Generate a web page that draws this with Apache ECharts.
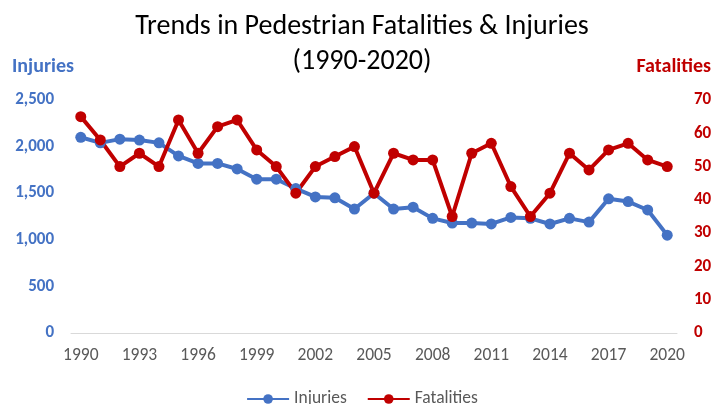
<!DOCTYPE html>
<html>
<head>
<meta charset="utf-8">
<script src="https://cdn.jsdelivr.net/npm/echarts@6/dist/echarts.min.js"></script>
<style>
  html, body { margin: 0; padding: 0; background: #fff; }
  #chart { width: 724px; height: 404px; }
</style>
</head>
<body>
<div id="chart"></div>
<script>
// years on the x axis
var years = [];
for (var y = 1990; y <= 2020; y++) years.push(String(y));

// pedestrian injuries (left axis)
var injuries = [2100, 2040, 2080, 2070, 2040, 1900, 1820, 1820, 1760, 1650,
                1650, 1550, 1460, 1450, 1330, 1500, 1330, 1350, 1230, 1180,
                1180, 1170, 1240, 1230, 1170, 1230, 1190, 1440, 1410, 1320, 1050];

// pedestrian fatalities (right axis)
var fatalities = [65, 58, 50, 54, 50, 64, 54, 62, 64, 55,
                  50, 42, 50, 53, 56, 42, 54, 52, 52, 35,
                  54, 57, 44, 35, 42, 54, 49, 55, 57, 52, 50];

var blue = '#4472C4';
var red = '#C00000';
var grey = '#595959';
var font = 'Carlito, Lato, sans-serif';

var chart = echarts.init(document.getElementById('chart'));
chart.setOption({
  animation: false,
  textStyle: { fontFamily: font },
  title: {
    text: 'Trends in Pedestrian Fatalities & Injuries\n(1990-2020)',
    left: 'center',
    top: 4,
    textStyle: { fontFamily: font, fontSize: 28, fontWeight: 'normal', color: '#000', lineHeight: 35 }
  },
  graphic: [
    { type: 'text', left: 12, top: 57,
      style: { text: 'Injuries', fill: blue, font: 'bold 20px ' + font } },
    { type: 'text', right: 13, top: 57,
      style: { text: 'Fatalities', fill: red, font: 'bold 20px ' + font } }
  ],
  legend: {
    top: 385,
    left: 'center',
    itemWidth: 42,
    itemHeight: 12,
    itemGap: 20,
    textStyle: { color: grey, fontSize: 17.5, fontFamily: font },
    data: ['Injuries', 'Fatalities']
  },
  grid: { left: 71, right: 47, top: 100, bottom: 71 },
  xAxis: {
    type: 'category',
    data: years,
    boundaryGap: true,
    axisTick: { show: false },
    axisLine: { lineStyle: { color: '#D9D9D9', width: 1 } },
    axisLabel: { interval: 2, color: grey, fontSize: 17.5, margin: 14 }
  },
  yAxis: [
    {
      type: 'value', min: 0, max: 2500, interval: 500,
      splitLine: { show: false },
      axisLine: { show: false },
      axisLabel: {
        color: blue, fontWeight: 'bold', fontSize: 17, margin: 17,
        formatter: function (v) { return v.toLocaleString('en-US'); }
      }
    },
    {
      type: 'value', min: 0, max: 70, interval: 10,
      splitLine: { show: false },
      axisLine: { show: false },
      axisLabel: { color: red, fontWeight: 'bold', fontSize: 17, margin: 17 }
    }
  ],
  series: [
    {
      name: 'Injuries', type: 'line', yAxisIndex: 0, data: injuries,
      symbol: 'circle', symbolSize: 11,
      lineStyle: { color: blue, width: 4 },
      itemStyle: { color: blue }
    },
    {
      name: 'Fatalities', type: 'line', yAxisIndex: 1, data: fatalities,
      symbol: 'circle', symbolSize: 11,
      lineStyle: { color: red, width: 4 },
      itemStyle: { color: red }
    }
  ]
});
</script>
</body>
</html>
